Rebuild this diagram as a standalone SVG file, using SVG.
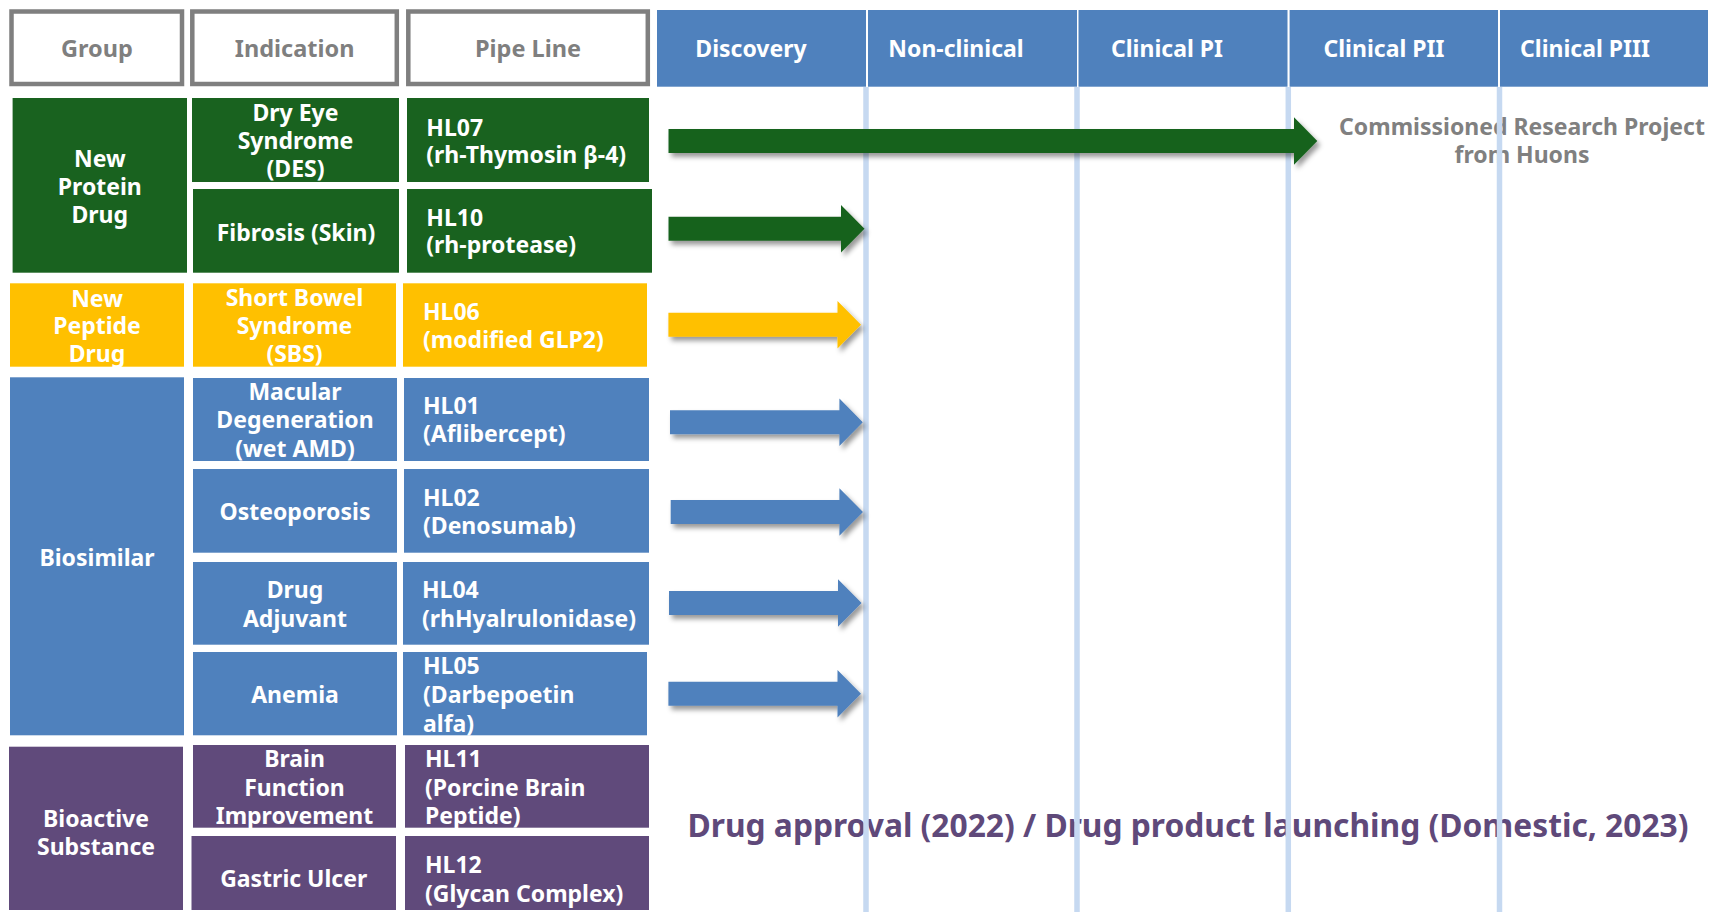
<svg xmlns="http://www.w3.org/2000/svg" width="1725" height="912" viewBox="0 0 1725 912">
  <defs>
    <style>
      text { font-family: "Noto Sans", "Open Sans", "Liberation Sans", sans-serif; font-weight: 700; }
      .hdr { fill: #ffffff; stroke: #7f7f7f; stroke-width: 4.5; }
      .hdrt { font-size: 23.5px; fill: #7f7f7f; text-anchor: middle; }
      .phase { fill: #4f81bd; }
      .phaset { font-size: 23px; fill: #ffffff; text-anchor: middle; }
      .green { fill: #19621f; }
      .yellow { fill: #ffc000; }
      .blue { fill: #4f81bd; }
      .purple { fill: #604a7b; }
      .ct { font-size: 23px; fill: #ffffff; text-anchor: middle; }
      .pt { font-size: 23px; fill: #ffffff; }
      .grid { stroke: #c6d9f1; stroke-width: 5.5; }
      .note { font-size: 23px; fill: #808080; text-anchor: middle; }
      .foot { font-size: 31.5px; fill: #5f497a; text-anchor: middle; }
    </style>
    <filter id="shadow" x="-10%" y="-40%" width="130%" height="200%">
      <feDropShadow dx="3" dy="4" stdDeviation="2.5" flood-color="#000000" flood-opacity="0.4"/>
    </filter>
  </defs>

  <rect x="0" y="0" width="1725" height="912" fill="#ffffff"/>

  <!-- Column headers -->
  <g id="hdr-group"><rect class="hdr" x="11.5" y="11.5" width="170.5" height="72.5"/><text class="hdrt" x="97" y="57">Group</text></g>
  <g id="hdr-indication"><rect class="hdr" x="192.3" y="11.5" width="204.5" height="72.5"/><text class="hdrt" x="294.6" y="57">Indication</text></g>
  <g id="hdr-pipeline"><rect class="hdr" x="408.3" y="11.5" width="239.5" height="72.5"/><text class="hdrt" x="528" y="57">Pipe Line</text></g>

  <g id="ph-discovery"><rect class="phase" x="657" y="10" width="209" height="76.7"/><text class="phaset" x="751" y="57">Discovery</text></g>
  <g id="ph-nonclinical"><rect class="phase" x="868" y="10" width="209" height="76.7"/><text class="phaset" x="956" y="57">Non-clinical</text></g>
  <g id="ph-clinical-p1"><rect class="phase" x="1078.5" y="10" width="209" height="76.7"/><text class="phaset" x="1167" y="57">Clinical PI</text></g>
  <g id="ph-clinical-p2"><rect class="phase" x="1289.6" y="10" width="208.4" height="76.7"/><text class="phaset" x="1384" y="57">Clinical PII</text></g>
  <g id="ph-clinical-p3"><rect class="phase" x="1500" y="10" width="208" height="76.7"/><text class="phaset" x="1585" y="57">Clinical PIII</text></g>

  <!-- Group column -->
  <g id="grp-new-protein"><rect class="green" x="12.6" y="98" width="174.4" height="174.7"/>
    <text class="ct"><tspan x="99.8" y="166.7">New</tspan><tspan x="99.8" y="195">Protein</tspan><tspan x="99.8" y="223.3">Drug</tspan></text></g>
  <g id="grp-new-peptide"><rect class="yellow" x="10" y="283.3" width="174" height="83.4"/>
    <text class="ct"><tspan x="97" y="306.7">New</tspan><tspan x="97" y="334.3">Peptide</tspan><tspan x="97" y="361.7">Drug</tspan></text></g>
  <g id="grp-biosimilar"><rect class="blue" x="10" y="377.3" width="174" height="358"/>
    <text class="ct" x="97" y="566">Biosimilar</text></g>
  <g id="grp-bioactive"><rect class="purple" x="9" y="746.7" width="174" height="163.3"/>
    <text class="ct"><tspan x="96" y="826.7">Bioactive</tspan><tspan x="96" y="855">Substance</tspan></text></g>

  <!-- Indication column -->
  <g id="ind-des"><rect class="green" x="192" y="98" width="207" height="84"/>
    <text class="ct"><tspan x="295.5" y="120.7">Dry Eye</tspan><tspan x="295.5" y="149">Syndrome</tspan><tspan x="295.5" y="177">(DES)</tspan></text></g>
  <g id="ind-fibrosis"><rect class="green" x="193" y="189" width="206" height="83.7"/>
    <text class="ct" x="296" y="240.7">Fibrosis (Skin)</text></g>
  <g id="ind-sbs"><rect class="yellow" x="193" y="283.3" width="203" height="83.4"/>
    <text class="ct"><tspan x="294.5" y="306">Short Bowel</tspan><tspan x="294.5" y="334">Syndrome</tspan><tspan x="294.5" y="362">(SBS)</tspan></text></g>
  <g id="ind-amd"><rect class="blue" x="193" y="378" width="204" height="83"/>
    <text class="ct"><tspan x="295" y="400">Macular</tspan><tspan x="295" y="428.3">Degeneration</tspan><tspan x="295" y="456.7">(wet AMD)</tspan></text></g>
  <g id="ind-osteoporosis"><rect class="blue" x="193" y="469" width="204" height="83.7"/>
    <text class="ct" x="295" y="520">Osteoporosis</text></g>
  <g id="ind-adjuvant"><rect class="blue" x="193" y="562" width="204" height="82.7"/>
    <text class="ct"><tspan x="295" y="598.3">Drug</tspan><tspan x="295" y="627.3">Adjuvant</tspan></text></g>
  <g id="ind-anemia"><rect class="blue" x="193" y="652" width="204" height="83.3"/>
    <text class="ct" x="295" y="703.3">Anemia</text></g>
  <g id="ind-brain"><rect class="purple" x="193" y="745" width="203" height="82.7"/>
    <text class="ct"><tspan x="294.5" y="767.3">Brain</tspan><tspan x="294.5" y="796">Function</tspan><tspan x="294.5" y="824">Improvement</tspan></text></g>
  <g id="ind-gastric"><rect class="purple" x="191.5" y="836" width="204.5" height="74"/>
    <text class="ct" x="293.7" y="886.7">Gastric Ulcer</text></g>

  <!-- Pipeline column -->
  <g id="pl-hl07"><rect class="green" x="407" y="98" width="242" height="84"/>
    <text class="pt"><tspan x="426.3" y="135.7">HL07</tspan><tspan x="426.3" y="163.3">(rh-Thymosin β-4)</tspan></text></g>
  <g id="pl-hl10"><rect class="green" x="407" y="189" width="245" height="83.7"/>
    <text class="pt"><tspan x="426.3" y="225.7">HL10</tspan><tspan x="426.3" y="253.3">(rh-protease)</tspan></text></g>
  <g id="pl-hl06"><rect class="yellow" x="403" y="283.3" width="244" height="83.4"/>
    <text class="pt"><tspan x="423" y="320">HL06</tspan><tspan x="423" y="348.3">(modified GLP2)</tspan></text></g>
  <g id="pl-hl01"><rect class="blue" x="404" y="378" width="245" height="83"/>
    <text class="pt"><tspan x="423" y="414">HL01</tspan><tspan x="423" y="442.3">(Aflibercept)</tspan></text></g>
  <g id="pl-hl02"><rect class="blue" x="404" y="469" width="245" height="83.7"/>
    <text class="pt"><tspan x="423" y="505.7">HL02</tspan><tspan x="423" y="534.3">(Denosumab)</tspan></text></g>
  <g id="pl-hl04"><rect class="blue" x="403" y="562" width="246" height="82.7"/>
    <text class="pt"><tspan x="422" y="598.3">HL04</tspan><tspan x="422" y="627.3">(rhHyalrulonidase)</tspan></text></g>
  <g id="pl-hl05"><rect class="blue" x="403" y="652" width="244" height="83.3"/>
    <text class="pt"><tspan x="423" y="674.3">HL05</tspan><tspan x="423" y="703.3">(Darbepoetin</tspan><tspan x="423" y="731.7">alfa)</tspan></text></g>
  <g id="pl-hl11"><rect class="purple" x="405" y="745" width="244" height="82.7"/>
    <text class="pt"><tspan x="425" y="767.3">HL11</tspan><tspan x="425" y="796">(Porcine Brain</tspan><tspan x="425" y="824">Peptide)</tspan></text></g>
  <g id="pl-hl12"><rect class="purple" x="405" y="836" width="244" height="74"/>
    <text class="pt"><tspan x="425" y="872.7">HL12</tspan><tspan x="425" y="901.7">(Glycan Complex)</tspan></text></g>

  <!-- Notes -->
  <g id="note-commissioned">
    <text class="note"><tspan x="1522" y="135">Commissioned Research Project</tspan><tspan x="1522" y="163">from Huons</tspan></text>
  </g>
  <g id="note-approval">
    <text class="foot" x="1188" y="837.3" textLength="1001" lengthAdjust="spacingAndGlyphs">Drug approval (2022) / Drug product launching (Domestic, 2023)</text>
  </g>

  <!-- Phase grid lines -->
  <g id="gridlines">
    <line class="grid" x1="866" y1="87" x2="866" y2="912"/>
    <line class="grid" x1="1077" y1="87" x2="1077" y2="912"/>
    <line class="grid" x1="1288.3" y1="87" x2="1288.3" y2="912"/>
    <line class="grid" x1="1499.5" y1="87" x2="1499.5" y2="912"/>
  </g>

  <!-- Progress arrows -->
  <g id="connectors" filter="url(#shadow)">
    <polygon class="green" points="668.5,129 1294,129 1294,117.3 1317.3,141 1294,164.7 1294,153 668.5,153"/>
    <polygon class="green" points="668.5,216.7 841,216.7 841,205 864.5,228.7 841,252.4 841,240.7 668.5,240.7"/>
    <polygon class="yellow" points="668.4,312.7 837.5,312.7 837.5,301 861,324.7 837.5,348.4 837.5,336.7 668.4,336.7"/>
    <polygon class="blue" points="670,410.3 839.4,410.3 839.4,398.6 862.8,422.3 839.4,446 839.4,434.3 670,434.3"/>
    <polygon class="blue" points="670.7,500 839.4,500 839.4,488.3 863,512 839.4,535.7 839.4,524 670.7,524"/>
    <polygon class="blue" points="669,591 838,591 838,579.3 861.6,603 838,626.7 838,615 669,615"/>
    <polygon class="blue" points="668.4,681.7 837.5,681.7 837.5,670 861,693.7 837.5,717.4 837.5,705.7 668.4,705.7"/>
  </g>
</svg>
